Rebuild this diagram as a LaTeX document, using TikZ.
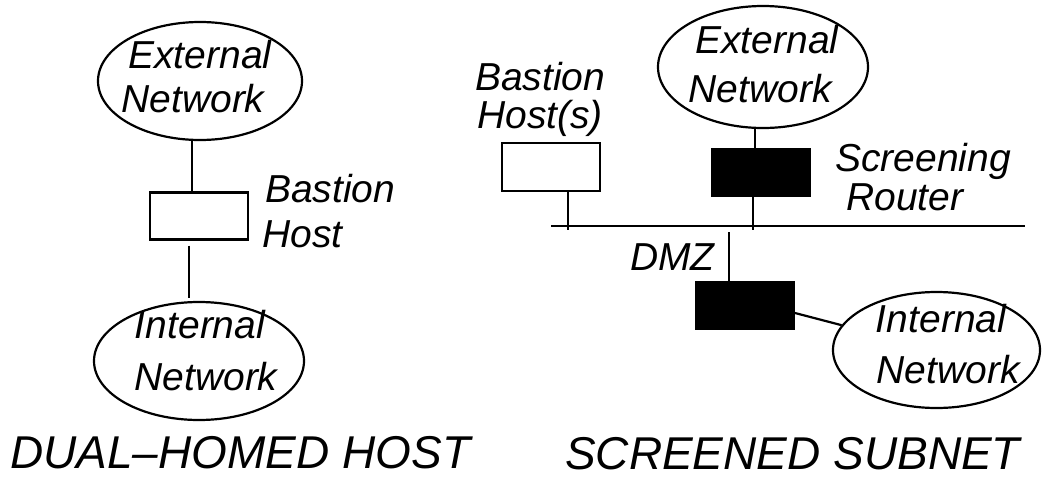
\documentclass[tikz,border=0pt]{standalone}
\usepackage{fontspec}
\setmainfont{Liberation Sans}
\usetikzlibrary{shapes.geometric}

\tikzset{
  wire/.style={line width=2.2pt},
  lbl/.style={font=\fontsize{39}{47}\selectfont\itshape, inner sep=0pt},
  caption/.style={font=\fontsize{46}{55}\selectfont\itshape, inner sep=0pt, text depth=0pt, anchor=base west},
  net/.style={ellipse, draw, line width=2.2pt, inner sep=0pt},
  hostbox/.style={rectangle, draw, line width=2.2pt, minimum width=98pt, minimum height=47pt, inner sep=0pt},
  routerbox/.style={rectangle, draw, fill=black, line width=1pt, minimum width=99pt, minimum height=48pt, inner sep=0pt},
}

\begin{document}
\begin{tikzpicture}[x=1pt, y=-1pt]
\useasboundingbox (0,0) rectangle (1045,477);

% ---------- dual-homed host ----------
\node[net, minimum width=204pt, minimum height=118pt] (extL) at (200,81) {};
\node[lbl, anchor=base] (extLa) at (200,68) {External};
\node[lbl, anchor=base] (extLb) at (193,112) {Network};

\node[hostbox] (hostL) at (199,216) {};
\node[lbl, anchor=base west] (hostLa) at (265,202) {Bastion};
\node[lbl, anchor=base west] (hostLb) at (262,247) {Host};

\node[net, minimum width=210pt, minimum height=118pt] (intL) at (199,361) {};
\node[lbl, anchor=base] (intLa) at (200,338) {Internal};
\node[lbl, anchor=base] (intLb) at (206,390) {Network};

\draw[wire] ([xshift=-7pt]hostL.north) -- ([xshift=-7pt]hostL.north |- extL.south);
\draw[wire, shorten >=3pt] ([xshift=-10pt,yshift=-5pt]hostL.south) -- ([xshift=-10pt]hostL.south |- intL.north);

\node[caption] (capL) at (10,468) {DUAL–HOMED HOST};

% ---------- screened subnet ----------
\node[net, minimum width=210pt, minimum height=122pt] (extR) at (763,67) {};
\node[lbl, anchor=base] (extRa) at (767,53) {External};
\node[lbl, anchor=base] (extRb) at (760,102) {Network};

\node[routerbox] (outer) at (760.5,172) {};
\node[lbl, anchor=base west, text depth=0pt] (outerA) at (835,171) {Screening};
\node[lbl, anchor=base west] (outerB) at (846,210) {Router};

\node[hostbox, minimum height=48pt] (hostR) at (551,167) {};
\node[lbl, anchor=base west] (hostRa) at (475,90) {Bastion};
\node[lbl, anchor=base west] (hostRb) at (477,128) {Host(s)};

% perimeter network
\coordinate (busW) at (551,226);
\coordinate (busE) at (1025,226);
\coordinate (tapB) at (568,230);
\coordinate (tapR) at (753,230);
\coordinate (dmzTop) at (729,232);
\draw[wire] (busW) -- (busE);
\node[lbl, anchor=base west] (dmz) at (630,270) {DMZ};

\node[routerbox] (inner) at (745,305) {};

\node[net, minimum width=207pt, minimum height=116pt] (intR) at (936.5,350) {};
\node[lbl, anchor=base] (intRa) at (941,332) {Internal};
\node[lbl, anchor=base] (intRb) at (948,383) {Network};

\draw[wire] ([xshift=-5.5pt]outer.north) -- ([xshift=-5.5pt]outer.north |- extR.south);
\draw[wire] (outer.south -| tapR) -- (tapR);
\draw[wire] (hostR.south -| tapB) -- (tapB);
\draw[wire] (dmzTop) -- (dmzTop |- inner.north);
\draw[wire] ([yshift=-8pt]inner.east) -- (intR);

\node[caption] (capR) at (565,469) {SCREENED SUBNET};
\end{tikzpicture}
\end{document}
